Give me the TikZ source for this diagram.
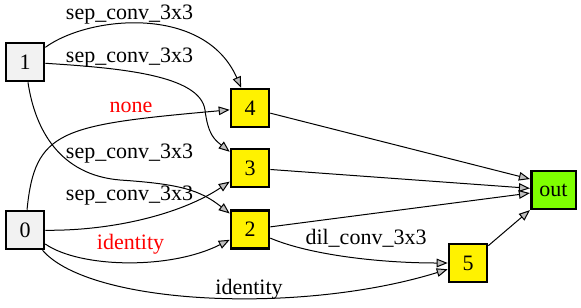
\documentclass[tikz,border=0pt]{standalone}
\usepackage{fontspec}
\setmainfont{Liberation Serif}
\usepackage{xcolor}
\usetikzlibrary{arrows.meta}
\definecolor{inputgray}{HTML}{F2F2F2}
\definecolor{chartreuse}{HTML}{7FFF00}

\begin{document}
\begin{tikzpicture}[x=0.5pt, y=-0.5pt,
    font=\fontsize{11}{13}\selectfont,
    box/.style={draw, line width=1.3pt, minimum size=19pt, inner sep=0pt},
    inbox/.style={box, fill=inputgray},
    midbox/.style={box, fill=yellow},
    outbox/.style={box, fill=chartreuse, minimum width=22.3pt},
    edge/.style={-{Triangle[length=5.5pt, width=4.3pt, fill=lightgray]}, line width=0.5pt},
    lbl/.style={anchor=base, inner sep=0pt}]
    \useasboundingbox (0,0) rectangle (581,307);

    % Cell inputs
    \node[inbox] (n1) at (25,62) {1};
    \node[inbox] (n0) at (25,230) {0};

    % Intermediate nodes
    \node[midbox] (n4) at (250,108) {4};
    \node[midbox] (n3) at (250,168) {3};
    \node[midbox] (n2) at (250,229.5) {2};
    \node[midbox] (n5) at (468,263) {5};

    % Output
    \node[outbox] (nout) at (553.5,190) {out};

    % Edges from input 1
    \draw[edge] (n1) .. controls (90,15) and (205,5) .. (n4);
    \draw[edge] (n1) .. controls (120,68) and (200,75) .. (205,110)
        .. controls (208,135) and (215,140) .. (n3);
    \draw[edge] (n1) .. controls (35,130) and (60,175) .. (120,180)
        .. controls (180,184) and (200,190) .. (n2);

    % Edges from input 0
    \draw[edge] (n0) .. controls (35,130) and (60,125) .. (n4);
    \draw[edge] (n0) .. controls (110,231) and (180,215) .. (n3);
    \draw[edge] (n0) .. controls (80,268) and (170,270) .. (n2);
    \draw[edge] (n0) .. controls (90,305) and (300,315) .. (n5);

    % Between intermediate nodes
    \draw[edge] (n2) .. controls (310,255) and (380,263) .. (n5);

    % Into the output
    \draw[edge] (n4) -- (nout.155);
    \draw[edge] (n3) -- (nout);
    \draw[edge] (n2) -- (nout);
    \draw[edge] (n5) -- (nout);

    % Operation labels
    \node[lbl] (l14) at (129.5,19) {sep\_conv\_3x3};
    \node[lbl] (l13) at (129.5,62) {sep\_conv\_3x3};
    \node[lbl, red] (l04) at (131,112) {none};
    \node[lbl] (l12) at (129.5,158) {sep\_conv\_3x3};
    \node[lbl] (l03) at (129.5,200) {sep\_conv\_3x3};
    \node[lbl, red] (l02) at (130.5,249) {identity};
    \node[lbl] (l05) at (249,294) {identity};
    \node[lbl] (l25) at (366,244) {dil\_conv\_3x3};
\end{tikzpicture}
\end{document}
